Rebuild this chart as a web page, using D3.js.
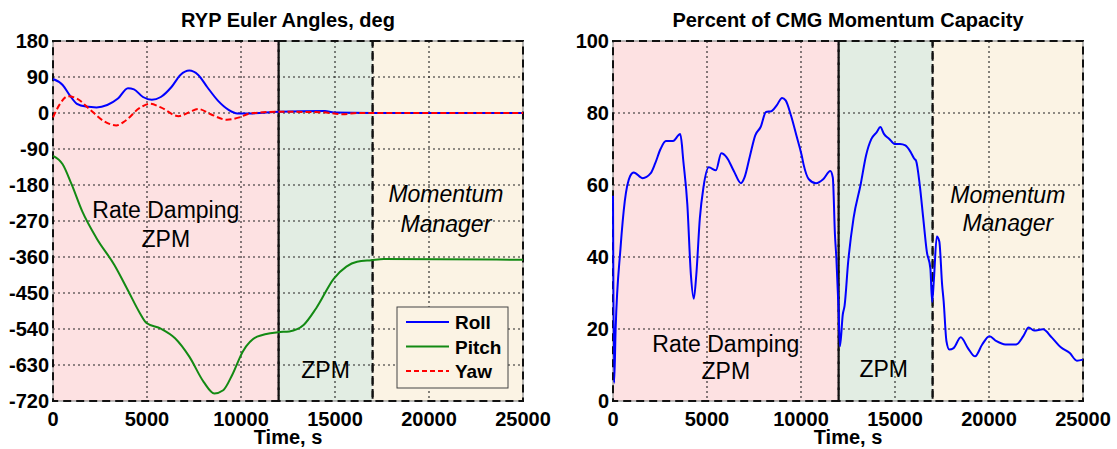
<!DOCTYPE html>
<html>
<head>
<meta charset="utf-8">
<script src="https://cdn.jsdelivr.net/npm/d3@7"></script>
<style>
  body { margin: 0; background: #fff; }
  svg { display: block; font-family: 'Liberation Sans', Arial, sans-serif; }
</style>
</head>
<body>
<svg id="chart" width="1117" height="449"></svg>
<script>
// Time axis, seconds
const timeTicks = [0, 5000, 10000, 15000, 20000, 25000];
const zoneEdges = [0, 12000, 17000, 25000];
const zoneColors = ['#fde1e2', '#e2ede3', '#fbf3e4'];

// Left panel: RYP Euler angles, deg
const angleTicks = [180, 90, 0, -90, -180, -270, -360, -450, -540, -630, -720];
const rollData = [
  [0, 85], [513, 70], [892, 44], [1272, 23], [1746, 16], [2316, 14], [2885, 20],
  [3455, 36], [3986, 62], [4309, 59], [4784, 40], [5258, 33], [5733, 40],
  [6302, 65], [6777, 95], [7251, 106], [7726, 95], [8200, 65], [8770, 31],
  [9339, 8], [9814, -1], [10478, -1], [12000, 3], [14465, 5], [14940, 1],
  [16933, 0], [25000, 0]
];
const pitchData = [
  [0, -107], [513, -128], [987, -178], [1557, -246], [2316, -313], [3265, -380],
  [4025, -447], [4594, -498], [4973, -525], [5733, -539], [6492, -563],
  [7251, -609], [8011, -672], [8580, -701], [9055, -693], [9530, -655],
  [10099, -596], [10858, -559], [11961, -548], [12569, -546], [13329, -530],
  [14000, -488], [14940, -414], [15605, -384], [16173, -372], [16933, -368],
  [17600, -365], [25000, -367]
];
const yawData = [
  [0, -11], [323, 19], [797, 42], [1272, 36], [1936, 10], [2695, -20],
  [3360, -31], [3834, -20], [4594, 12], [5163, 23], [5733, 14], [6682, -8],
  [7251, 2], [7726, 10], [8390, -3], [9244, -17], [9909, -11], [10478, -1],
  [12000, 3], [14275, 2], [15414, -3], [16173, 0], [25000, 0]
];
const legendLabels = ['Roll', 'Pitch', 'Yaw'];

// Right panel: percent of CMG momentum capacity
const percentTicks = [0, 20, 40, 60, 80, 100];
const cmgData = [
  [0, 57], [60, 5], [140, 20], [399, 42.4], [627, 55.5], [913, 62.5], [1103, 63.5],
  [1578, 61.9], [1996, 63.2], [2243, 66], [2529, 70], [2814, 72.2], [3194, 72.2],
  [3479, 73.8], [3574, 74.2], [3669, 71], [3707, 68.6], [3954, 54.6], [4144, 35],
  [4297, 28.4], [4430, 35], [4620, 50.8], [4810, 59.3], [5095, 64.9], [5475, 64.1],
  [5760, 68.8], [6046, 67.7], [6426, 63.9], [6806, 60.5], [6996, 62.1], [7281, 68],
  [7567, 73.8], [7852, 76.1], [8137, 80.3], [8422, 80.5], [8707, 82.1], [8992, 84.2],
  [9183, 83.5], [9468, 79.3], [9753, 73.8], [10038, 68.2], [10133, 65.8],
  [10418, 61.6], [10798, 60.5], [11179, 61.6], [11559, 63.9], [11692, 62.1],
  [11806, 46.2], [11882, 39.6], [12000, 25], [12072, 15.2], [12224, 24.1],
  [12319, 26.5], [12510, 38.7], [12795, 50.8], [13175, 60.2], [13460, 68.2],
  [13745, 72.8], [14030, 74.7], [14221, 76.1], [14411, 74.2], [14696, 72.8],
  [14981, 71.4], [15266, 71.4], [15551, 71], [15837, 69.1], [16027, 67.3],
  [16122, 66.7], [16312, 60.2], [16502, 50.8], [16692, 41.5], [16882, 36.8],
  [16977, 27.5], [17072, 34], [17224, 45.7], [17357, 44.3], [17509, 32.1],
  [17585, 27.9], [17737, 16.6], [17889, 14.3], [18118, 14.7], [18498, 17.7],
  [18878, 14.7], [19259, 12.4], [19639, 15.7], [20019, 18], [20399, 16.6],
  [20875, 15.7], [21445, 15.7], [21825, 18], [22110, 20.4], [22395, 19.6],
  [22871, 19.9], [23346, 17.6], [23821, 14.9], [24297, 13.3], [24677, 11.2],
  [25000, 11.5]
];

let svg = d3.select('#chart');
const boldFont = '20px';

let drawPanel = function (opts) {
  let x = d3.scaleLinear().domain([0, 25000]).range([opts.x0, opts.x1]);
  let y = d3.scaleLinear().domain(opts.yDomain).range([opts.y1, opts.y0]);
  let g = svg.append('g');

  // zone backgrounds
  zoneColors.forEach((c, i) => {
    g.append('rect')
      .attr('x', x(zoneEdges[i])).attr('y', opts.y0)
      .attr('width', x(zoneEdges[i + 1]) - x(zoneEdges[i]))
      .attr('height', opts.y1 - opts.y0)
      .attr('fill', c);
  });

  // grid
  let gridStyle = sel => sel.attr('stroke', '#222').attr('stroke-width', 1.1)
    .attr('stroke-dasharray', '2,3');
  timeTicks.slice(1, -1).forEach(t => {
    g.append('line').attr('x1', x(t)).attr('x2', x(t))
      .attr('y1', opts.y0).attr('y2', opts.y1).call(gridStyle);
  });
  opts.yTicks.forEach(v => {
    if (v === opts.yDomain[0] || v === opts.yDomain[1]) return;
    g.append('line').attr('x1', opts.x0).attr('x2', opts.x1)
      .attr('y1', y(v)).attr('y2', y(v)).call(gridStyle);
  });

  // axes box
  g.append('rect')
    .attr('x', opts.x0).attr('y', opts.y0)
    .attr('width', opts.x1 - opts.x0).attr('height', opts.y1 - opts.y0)
    .attr('fill', 'none').attr('stroke', '#777').attr('stroke-width', 1);

  // dashed zone borders
  zoneColors.forEach((c, i) => {
    g.append('rect')
      .attr('x', x(zoneEdges[i])).attr('y', opts.y0)
      .attr('width', x(zoneEdges[i + 1]) - x(zoneEdges[i]))
      .attr('height', opts.y1 - opts.y0)
      .attr('fill', 'none').attr('stroke', '#111').attr('stroke-width', 2)
      .attr('stroke-dasharray', '8,5');
  });
  g.append('line')
    .attr('x1', x(zoneEdges[1])).attr('x2', x(zoneEdges[1]))
    .attr('y1', opts.y0).attr('y2', opts.y1)
    .attr('stroke', '#111').attr('stroke-width', 1.5);

  // zone labels
  opts.labels.forEach(l => {
    g.append('text')
      .attr('x', x(l.t)).attr('y', y(l.v))
      .attr('text-anchor', 'middle')
      .style('font-size', '23px')
      .style('font-style', l.italic ? 'italic' : 'normal')
      .text(l.text);
  });

  // series
  opts.series.forEach(s => {
    let line = d3.line().x(d => x(d[0])).y(d => y(d[1])).curve(d3.curveMonotoneX);
    g.append('path')
      .attr('d', line(s.data))
      .attr('fill', 'none')
      .attr('stroke', s.color)
      .attr('stroke-width', 2)
      .attr('stroke-dasharray', s.dash || null);
  });

  // tick labels
  timeTicks.forEach(t => {
    g.append('text')
      .attr('x', x(t)).attr('y', opts.y1 + 25)
      .attr('text-anchor', 'middle')
      .style('font-size', boldFont).style('font-weight', 'bold')
      .text(t);
  });
  opts.yTicks.forEach(v => {
    g.append('text')
      .attr('x', opts.x0 - 4).attr('y', y(v) + 7)
      .attr('text-anchor', 'end')
      .style('font-size', boldFont).style('font-weight', 'bold')
      .text(v);
  });

  // title and x label
  g.append('text')
    .attr('x', (opts.x0 + opts.x1) / 2).attr('y', 27)
    .attr('text-anchor', 'middle')
    .style('font-size', boldFont).style('font-weight', 'bold')
    .text(opts.title);
  g.append('text')
    .attr('x', (opts.x0 + opts.x1) / 2).attr('y', 444)
    .attr('text-anchor', 'middle')
    .style('font-size', boldFont).style('font-weight', 'bold')
    .text('Time, s');

  return g;
};

drawPanel({
  x0: 53, x1: 523, y0: 41, y1: 401,
  yDomain: [-720, 180],
  yTicks: angleTicks,
  title: 'RYP Euler Angles, deg',
  labels: [
    { t: 6000, v: -262, text: 'Rate Damping' },
    { t: 6000, v: -334, text: 'ZPM' },
    { t: 14500, v: -662, text: 'ZPM' },
    { t: 20900, v: -222, text: 'Momentum', italic: true },
    { t: 20900, v: -297, text: 'Manager', italic: true }
  ],
  series: [
    { data: rollData, color: '#0000ff' },
    { data: pitchData, color: '#138a13' },
    { data: yawData, color: '#ff0000', dash: '6,3' }
  ]
});

// legend
let legend = svg.append('g');
legend.append('rect')
  .attr('x', 397).attr('y', 307).attr('width', 111).attr('height', 81)
  .attr('fill', '#fbf3e4').attr('stroke', '#444').attr('stroke-width', 1);
const legendColors = ['#0000ff', '#138a13', '#ff0000'];
legendLabels.forEach((name, i) => {
  let ly = 322 + i * 24.5;
  legend.append('line')
    .attr('x1', 406).attr('x2', 449).attr('y1', ly).attr('y2', ly)
    .attr('stroke', legendColors[i]).attr('stroke-width', 2)
    .attr('stroke-dasharray', i === 2 ? '5,3' : null);
  legend.append('text')
    .attr('x', 455).attr('y', ly + 7)
    .style('font-size', '19px').style('font-weight', 'bold')
    .text(name);
});

drawPanel({
  x0: 613, x1: 1083, y0: 41, y1: 401,
  yDomain: [0, 100],
  yTicks: percentTicks,
  title: 'Percent of CMG Momentum Capacity',
  labels: [
    { t: 6000, v: 13.6, text: 'Rate Damping' },
    { t: 6000, v: 6, text: 'ZPM' },
    { t: 14400, v: 6.6, text: 'ZPM' },
    { t: 21000, v: 55, text: 'Momentum', italic: true },
    { t: 21000, v: 47.3, text: 'Manager', italic: true }
  ],
  series: [
    { data: cmgData, color: '#0000ff' }
  ]
});
</script>
</body>
</html>
